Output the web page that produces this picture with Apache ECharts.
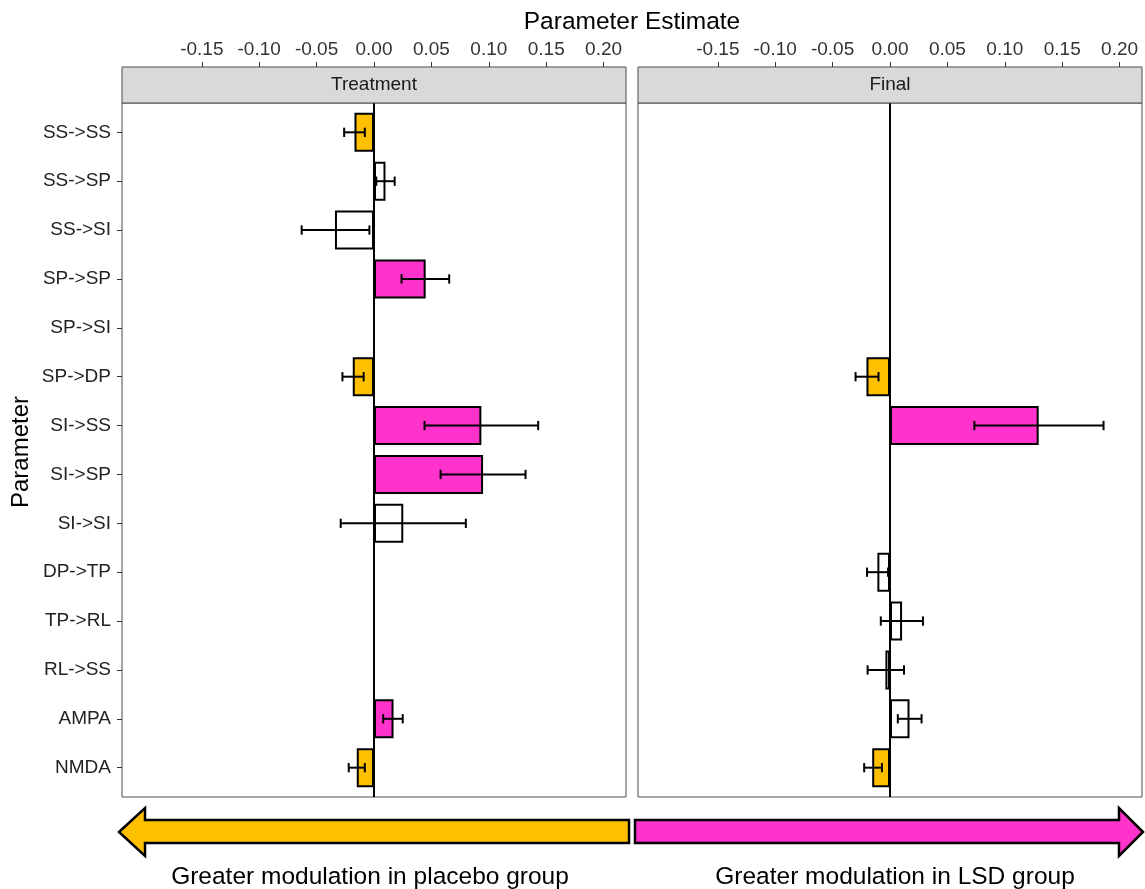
<!DOCTYPE html>
<html>
<head>
<meta charset="utf-8">
<script src="https://cdn.jsdelivr.net/npm/echarts@6/dist/echarts.min.js"></script>
<style>
html,body{margin:0;padding:0;background:#fff;}
#chart{width:1145px;height:889px;}
</style>
</head>
<body>
<div id="chart"></div>
<script>
// ---- data ----
var categories = ['SS->SS','SS->SP','SS->SI','SP->SP','SP->SI','SP->DP','SI->SS','SI->SP','SI->SI','DP->TP','TP->RL','RL->SS','AMPA','NMDA'];
var xTicks = [-0.15,-0.10,-0.05,0.00,0.05,0.10,0.15,0.20];
var facets = ['Treatment','Final'];

// Treatment panel
var treatEst  = [-0.017, 0.010, -0.034, 0.045, null, -0.0185, 0.0935, 0.095, 0.0255, null, null, null, 0.017, -0.015];
var treatLow  = [-0.026, 0.002, -0.063, 0.024, null, -0.0275, 0.044, 0.058, -0.029, null, null, null, 0.008, -0.022];
var treatHigh = [-0.008, 0.018, -0.004, 0.0655, null, -0.009, 0.143, 0.132, 0.080, null, null, null, 0.025, -0.008];
var treatSig  = ['placebo','ns','ns','lsd',null,'placebo','lsd','lsd','ns',null,null,null,'lsd','placebo'];

// Final panel
var finalEst  = [null, null, null, null, null, -0.0205, 0.1295, null, null, -0.011, 0.0105, -0.004, 0.017, -0.0155];
var finalLow  = [null, null, null, null, null, -0.030, 0.0735, null, null, -0.020, -0.008, -0.0195, 0.0068, -0.0225];
var finalHigh = [null, null, null, null, null, -0.010, 0.186, null, null, -0.0017, 0.0287, 0.0122, 0.0275, -0.007];
var finalSig  = [null, null, null, null, null, 'placebo','lsd', null, null, 'ns','ns','ns','ns','placebo'];

var sigColors = {placebo:'#FFC000', lsd:'#FF33CC', ns:'#FFFFFF'};

// ---- layout ----
var FONT = '"Liberation Sans", Arial, Helvetica, sans-serif';
var XMIN = -0.2195, XMAX = 0.2195;
var panelTop = 103, panelH = 694, stripH = 36, panelW = 504;
var panelLeft = [122, 638];
var pad = 0.1 * panelH / 14.2; // so that categories match ggplot's 0.6 expansion
var innerTop = panelTop + pad, innerH = panelH - 2 * pad;

function barData(est, sig){
  return est.map(function(v, i){
    if (v === null) return '-';
    return {value: v, itemStyle: {color: sigColors[sig[i]]}};
  });
}
function errData(low, high){
  var out = [];
  for (var i = 0; i < low.length; i++){
    if (low[i] !== null) out.push([low[i], i, high[i]]);
  }
  return out;
}
function renderErr(params, api){
  var lo = api.value(0), idx = api.value(1), hi = api.value(2);
  var p1 = api.coord([lo, idx]), p2 = api.coord([hi, idx]);
  var h = api.size([0, 1])[1] * 0.19 / 2;
  var st = {stroke:'#000', lineWidth:2};
  return {type:'group', children:[
    {type:'line', shape:{x1:p1[0], y1:p1[1], x2:p2[0], y2:p2[1]}, style:st},
    {type:'line', shape:{x1:p1[0], y1:p1[1]-h, x2:p1[0], y2:p1[1]+h}, style:st},
    {type:'line', shape:{x1:p2[0], y1:p2[1]-h, x2:p2[0], y2:p2[1]+h}, style:st}
  ]};
}

var grids = [], xAxes = [], yAxes = [], series = [], graphics = [];
var estArr = [treatEst, finalEst], lowArr = [treatLow, finalLow], highArr = [treatHigh, finalHigh], sigArr = [treatSig, finalSig];

for (var f = 0; f < 2; f++){
  grids.push({left: panelLeft[f], top: panelTop, width: panelW, height: panelH, show: true,
    borderColor: '#4d4d4d', borderWidth: 1, backgroundColor: 'transparent', containLabel: false});
  grids.push({left: panelLeft[f], top: innerTop, width: panelW, height: innerH, show: false, containLabel: false});
}
for (var f = 0; f < 2; f++){
  var og = f * 2, ig = f * 2 + 1;
  xAxes.push({type:'value', gridIndex: og, min: XMIN, max: XMAX, position:'top', offset: stripH,
    axisLine:{show:false, onZero:false}, splitLine:{show:false},
    axisTick:{show:true, inside:false, length:5, lineStyle:{color:'#333', width:1}, customValues: xTicks},
    axisLabel:{show:true, customValues: xTicks, margin: 8, fontSize: 19, color:'#333', fontFamily: FONT,
      formatter: function(v){ return v.toFixed(2); }}});
  yAxes.push({type:'value', gridIndex: og, min:0, max:1, show:false});
  xAxes.push({type:'value', gridIndex: ig, min: XMIN, max: XMAX, show:false});
  yAxes.push({type:'category', gridIndex: ig, data: categories, inverse: true, position:'left',
    axisLine:{show:false, onZero:false}, splitLine:{show:false},
    axisTick:{show: f === 0, alignWithLabel:true, length:5, lineStyle:{color:'#333', width:1}},
    axisLabel:{show: f === 0, fontSize: 19, color:'#222', fontFamily: FONT, margin: 11}});

  series.push({type:'line', xAxisIndex: og, yAxisIndex: og, data: [[0,0],[0,1]], symbol:'none',
    lineStyle:{color:'#000', width:2}, silent:true, z:2, animation:false});
  series.push({type:'bar', xAxisIndex: ig, yAxisIndex: ig, data: barData(estArr[f], sigArr[f]),
    barWidth:'80%', itemStyle:{borderColor:'#000', borderWidth:2}, z:3, animation:false});
  series.push({type:'custom', xAxisIndex: ig, yAxisIndex: ig, data: errData(lowArr[f], highArr[f]),
    encode:{x:[0,2], y:1}, renderItem: renderErr, z:4, animation:false});

  graphics.push({type:'rect', shape:{x: panelLeft[f], y: panelTop - stripH, width: panelW, height: stripH},
    style:{fill:'#d9d9d9', stroke:'#4d4d4d', lineWidth:1}, z: 10});
  graphics.push({type:'text', x: panelLeft[f] + panelW/2, y: panelTop - stripH/2,
    style:{text: facets[f], fill:'#1a1a1a', font: '19px ' + FONT, textAlign:'center', textVerticalAlign:'middle'}, z: 11});
}

graphics.push({type:'text', x: 632, y: 22,
  style:{text:'Parameter Estimate', fill:'#000', font:'24.5px ' + FONT, textAlign:'center', textVerticalAlign:'middle'}});
graphics.push({type:'text', x: 21, y: 452, rotation: Math.PI/2,
  style:{text:'Parameter', fill:'#000', font:'24px ' + FONT, textAlign:'center', textVerticalAlign:'middle'}});

graphics.push({type:'polygon', shape:{points:[[119,832],[145,808],[145,820],[629,820],[629,843],[145,843],[145,856]]},
  style:{fill:'#FFC000', stroke:'#000', lineWidth:2.5}});
graphics.push({type:'polygon', shape:{points:[[1143,832],[1119,808],[1119,820],[635,820],[635,843],[1119,843],[1119,856]]},
  style:{fill:'#FF33CC', stroke:'#000', lineWidth:2.5}});
graphics.push({type:'text', x: 370, y: 877,
  style:{text:'Greater modulation in placebo group', fill:'#000', font:'24.5px ' + FONT, textAlign:'center', textVerticalAlign:'middle'}});
graphics.push({type:'text', x: 895, y: 877,
  style:{text:'Greater modulation in LSD group', fill:'#000', font:'24.5px ' + FONT, textAlign:'center', textVerticalAlign:'middle'}});

var chart = echarts.init(document.getElementById('chart'), null, {renderer:'canvas'});
chart.setOption({
  animation: false,
  backgroundColor: '#fff',
  grid: grids,
  xAxis: xAxes,
  yAxis: yAxes,
  series: series,
  graphic: graphics
});
</script>
</body>
</html>
